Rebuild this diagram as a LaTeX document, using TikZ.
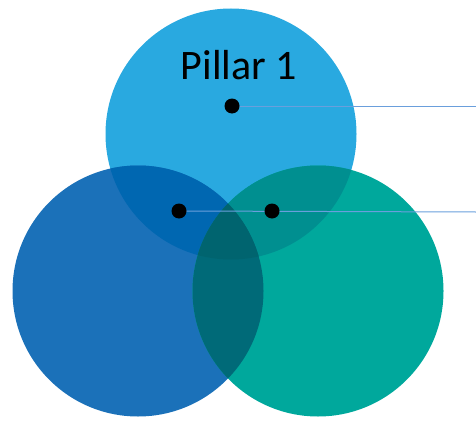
\documentclass[tikz,border=0pt]{standalone}
\usepackage{fontspec}
\setmainfont{Carlito}
\definecolor{ctop}{HTML}{29A9E0}
\definecolor{cleft}{HTML}{1B71B9}
\definecolor{cright}{HTML}{00A89C}
\definecolor{ctl}{HTML}{0067B1}
\definecolor{ctr}{HTML}{008F90}
\definecolor{clr}{HTML}{006A78}
\definecolor{call}{HTML}{00646F}
\definecolor{cline}{HTML}{6A9FDC}
\pgfdeclarelayer{discs}
\pgfdeclarelayer{leaders}
\pgfsetlayers{discs,leaders,main}
\tikzset{
  pillar/.style={circle, minimum size=251pt, inner sep=0pt, fill=#1},
  dotmark/.style={circle, fill=black, minimum size=15pt, inner sep=0pt},
  leader/.style={draw=cline, line width=1pt}
}
\begin{document}
\begin{tikzpicture}[x=1pt,y=-1pt]
\useasboundingbox (0,0) rectangle (476,420);
\coordinate (ct) at (231,134);
\coordinate (cl) at (138,291);
\coordinate (cr) at (318,291);
\begin{pgfonlayer}{discs}
\node[pillar=ctop] (top) at (ct) {};
\node[pillar=cleft] (left) at (cl) {};
\node[pillar=cright] (right) at (cr) {};
\begin{scope}
  \clip (ct) circle (125.5);
  \fill[ctl] (cl) circle (125.5);
\end{scope}
\begin{scope}
  \clip (ct) circle (125.5);
  \fill[ctr] (cr) circle (125.5);
\end{scope}
\begin{scope}
  \clip (cl) circle (125.5);
  \fill[clr] (cr) circle (125.5);
\end{scope}
\begin{scope}
  \clip (ct) circle (125.5);
  \clip (cl) circle (125.5);
  \fill[call] (cr) circle (125.5);
\end{scope}
\end{pgfonlayer}
\node[font=\fontsize{42}{48}\selectfont] (title) at (239,65) {Pillar 1};
\coordinate (e1) at (476,106);
\coordinate (e2) at (476,212);
\node[dotmark] (d1) at (232,106) {};
\node[dotmark] (d2) at (179,211) {};
\node[dotmark] (d3) at (272,211) {};
\begin{pgfonlayer}{leaders}
\draw[leader] (d1.center) -- (e1);
\draw[leader] (d2.center) -- (e2);
\end{pgfonlayer}
\end{tikzpicture}
\end{document}
